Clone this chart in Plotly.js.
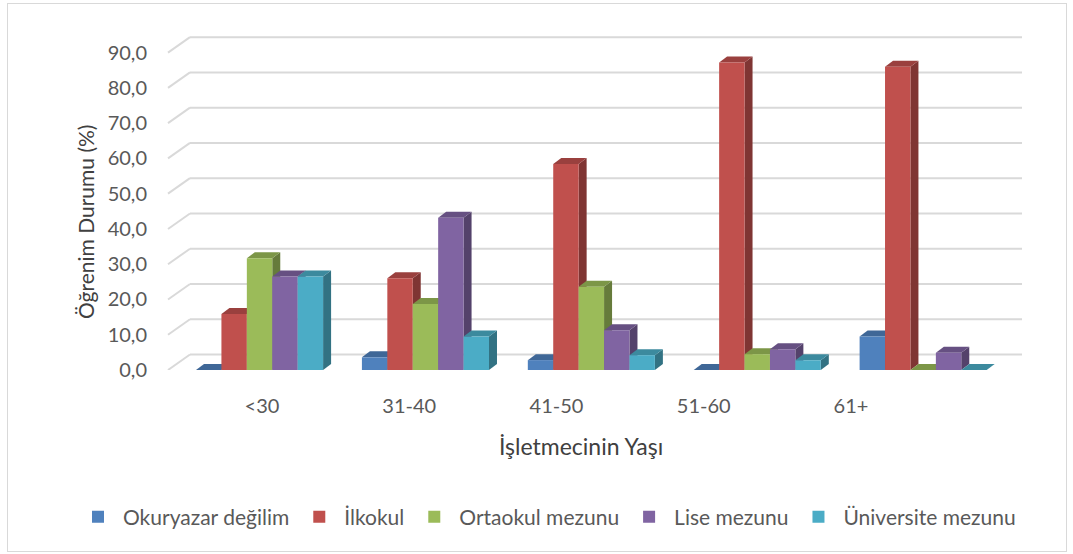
<!DOCTYPE html>
<html>
<head>
<meta charset="utf-8">
<script src="https://cdn.plot.ly/plotly-3.0.1.min.js"></script>
<style>
  html, body { margin: 0; padding: 0; background: #ffffff; }
  #wrap { position: relative; width: 1073px; height: 554px; }
  #chart { width: 1073px; height: 554px; }
  #frame { position: absolute; left: 7px; top: 3px; width: 1058px; height: 547px;
           border: 1px solid #d9d9d9; pointer-events: none; }
</style>
</head>
<body>
<div id="wrap"><div id="chart"></div><div id="frame"></div></div>
<script>
// ---- data ----
const categories = ['<30', '31-40', '41-50', '51-60', '61+'];
const seriesNames = ['Okuryazar değilim', 'İlkokul', 'Ortaokul mezunu', 'Lise mezunu', 'Üniversite mezunu'];
const okuryazar = [0, 3.6, 2.8, 0, 9.5];
const ilkokul = [15.9, 26.0, 58.4, 87.2, 86.0];
const ortaokul = [31.7, 18.7, 23.6, 4.5, 0];
const lise = [26.5, 43.2, 11.3, 5.9, 4.9];
const universite = [26.5, 9.5, 4.2, 2.8, 0];
const yTicks = [0, 10, 20, 30, 40, 50, 60, 70, 80, 90];
const yTitle = 'Öğrenim Durumu (%)';
const xTitle = 'İşletmecinin Yaşı';

// ---- styles ----
const frontColors = ['#4F81BD', '#C0504D', '#9BBB59', '#8064A2', '#4BACC6'];
const seriesValues = [okuryazar, ilkokul, ortaokul, lise, universite];

function shade(hex, f) {
  const n = parseInt(hex.slice(1), 16);
  const r = Math.round(((n >> 16) & 255) * f);
  const g = Math.round(((n >> 8) & 255) * f);
  const b = Math.round((n & 255) * f);
  return 'rgb(' + r + ',' + g + ',' + b + ')';
}

const W = 1073, H = 554;
const margin = { l: 40, r: 40, t: 35, b: 184, pad: 0, autoexpand: false };
const plotW = W - margin.l - margin.r;
const plotH = H - margin.t - margin.b;
const px = v => (v - margin.l) / plotW;      // pixel x -> paper x
const py = v => (margin.t + plotH - v) / plotH; // pixel y -> paper y

const yRange = [0, 95];
const barDomain = [px(176.6), px(1006.1)];
const labelDomain = [px(188.4), px(924.6)];
const wallLeft = px(168);
const gridStart = px(190);
const gridEnd = px(1022);
const bargap = 0.234;

const pxPerY = plotH / (yRange[1] - yRange[0]);
const pxPerX = (barDomain[1] - barDomain[0]) * plotW / categories.length;
const depthX = 8 / pxPerX;     // bar depth, in x units
const depthY = 6 / pxPerY;     // bar depth, in y units
const wallOff = 15.5 / pxPerY; // back wall offset, in y units

const font = 'Lato, "Open Sans", sans-serif';

const traces = seriesValues.map((vals, i) => ({
  type: 'bar',
  name: seriesNames[i],
  x: categories,
  y: vals,
  xaxis: 'x',
  yaxis: 'y',
  marker: { color: frontColors[i], line: { width: 0 } },
  hoverinfo: 'x+y+name'
}));

// helper trace to carry the category tick labels axis
traces.push({
  type: 'scatter', mode: 'markers',
  x: categories, y: categories.map(() => null),
  xaxis: 'x2', yaxis: 'y',
  showlegend: false, hoverinfo: 'skip'
});

const shapes = [];
// back-wall gridlines and side-wall diagonals
yTicks.forEach(v => {
  shapes.push({ type: 'line', layer: 'below', xref: 'paper', yref: 'y',
    x0: gridStart, x1: gridEnd, y0: v + wallOff, y1: v + wallOff,
    line: { color: '#d9d9d9', width: 2 } });
  shapes.push({ type: 'line', layer: 'below', xref: 'paper', yref: 'y',
    x0: wallLeft, x1: gridStart, y0: v, y1: v + wallOff,
    line: { color: '#d9d9d9', width: 2 } });
});

// 3D faces of the bars (top and right side), from the data
const groupW = 1 - bargap;
const barW = groupW / seriesValues.length;
seriesValues.forEach((vals, i) => {
  vals.forEach((v, j) => {
    const xl = j - groupW / 2 + i * barW;
    const xr = xl + barW;
    const side = 'M' + xr + ',0 L' + (xr + depthX) + ',' + depthY + ' L' + (xr + depthX) + ',' + (v + depthY) + ' L' + xr + ',' + v + ' Z';
    const top = 'M' + xl + ',' + v + ' L' + (xl + depthX) + ',' + (v + depthY) + ' L' + (xr + depthX) + ',' + (v + depthY) + ' L' + xr + ',' + v + ' Z';
    shapes.push({ type: 'path', layer: 'between', xref: 'x', yref: 'y', path: side,
      fillcolor: shade(frontColors[i], 0.66), line: { width: 0 } });
    shapes.push({ type: 'path', layer: 'between', xref: 'x', yref: 'y', path: top,
      fillcolor: shade(frontColors[i], 0.8), line: { width: 0 } });
  });
});

const layout = {
  width: W, height: H,
  margin: margin,
  paper_bgcolor: '#ffffff',
  plot_bgcolor: 'rgba(0,0,0,0)',
  separators: ',.',
  font: { family: font, color: '#595959', size: 20 },
  barmode: 'group',
  bargap: bargap,
  bargroupgap: 0,
  showlegend: true,
  legend: {
    orientation: 'h', xref: 'paper', yref: 'paper',
    x: px(547), xanchor: 'center',
    y: py(517), yanchor: 'middle',
    font: { family: font, size: 21, color: '#595959' },
    itemwidth: 40,
    traceorder: 'normal', bgcolor: 'rgba(0,0,0,0)'
  },
  xaxis: {
    type: 'category', domain: barDomain, anchor: 'y',
    range: [-0.5, categories.length - 0.5],
    showticklabels: false, showgrid: false, zeroline: false, showline: false, ticks: ''
  },
  xaxis2: {
    type: 'category', domain: labelDomain, anchor: 'y',
    range: [-0.5, categories.length - 0.5],
    showgrid: false, zeroline: false, showline: false,
    ticks: 'outside', ticklen: 18, tickcolor: 'rgba(0,0,0,0)',
    tickfont: { family: font, size: 20, color: '#595959' }
  },
  yaxis: {
    domain: [0, 1], anchor: 'free', position: wallLeft, range: yRange,
    tickmode: 'array', tickvals: yTicks, tickformat: '.1f',
    showgrid: false, zeroline: false, showline: false,
    ticks: 'outside', ticklen: 17, tickcolor: 'rgba(0,0,0,0)',
    tickfont: { family: font, size: 20, color: '#595959' }
  },
  shapes: shapes,
  annotations: [
    { text: yTitle, xref: 'paper', yref: 'paper',
      x: px(85), y: py(222),
      xanchor: 'center', yanchor: 'middle', textangle: -90, showarrow: false,
      font: { family: font, size: 21, color: '#404040' } },
    { text: xTitle, xref: 'paper', yref: 'paper',
      x: px(581), y: py(446),
      xanchor: 'center', yanchor: 'middle', showarrow: false,
      font: { family: font, size: 23, color: '#404040' } }
  ]
};

Plotly.newPlot('chart', traces, layout, { displayModeBar: false, staticPlot: false });
</script>
</body>
</html>
